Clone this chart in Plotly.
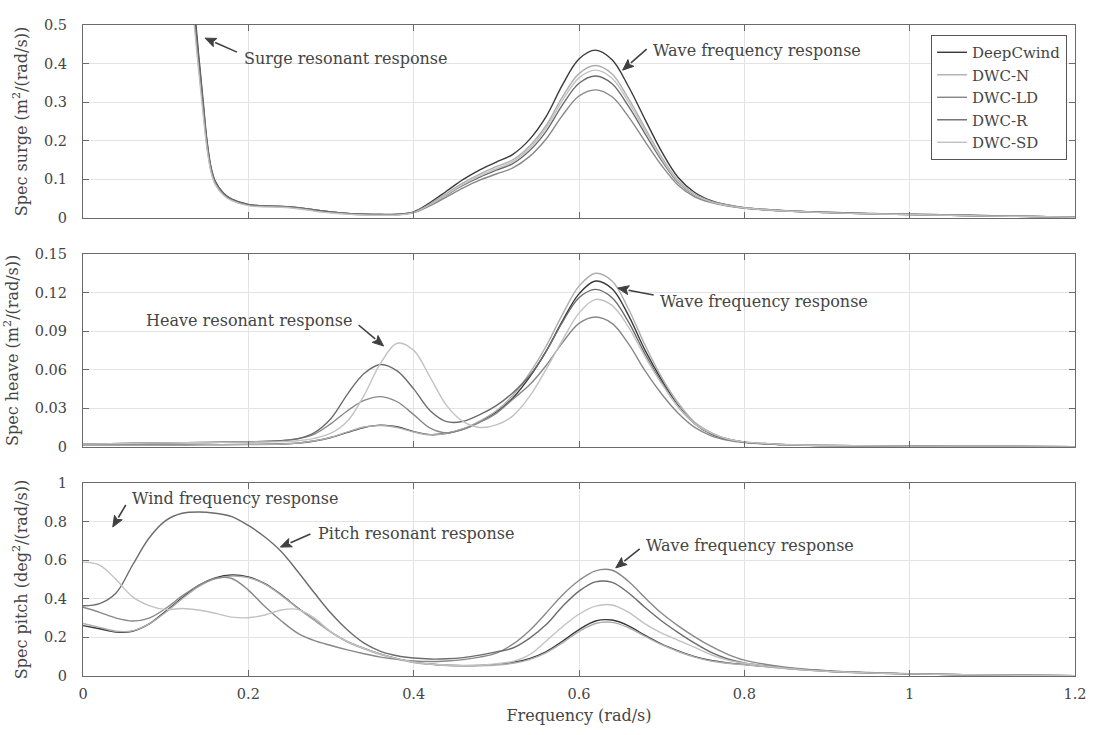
import math
import plotly.graph_objects as go
from plotly.subplots import make_subplots

# ---------------------------------------------------------------- data
SERIES = ["DeepCwind", "DWC-N", "DWC-LD", "DWC-R", "DWC-SD"]

# Surge response spectrum (m^2/(rad/s))
F_SURGE = [0, 0.05, 0.1, 0.12, 0.13, 0.135, 0.14, 0.145, 0.15, 0.155,
           0.16, 0.17, 0.18, 0.2, 0.22, 0.24, 0.26, 0.28, 0.3, 0.32,
           0.34, 0.36, 0.38, 0.4, 0.42, 0.44, 0.46, 0.48, 0.5, 0.52,
           0.54, 0.56, 0.58, 0.6, 0.62, 0.64, 0.66, 0.68, 0.7, 0.72,
           0.74, 0.76, 0.78, 0.8, 0.85, 0.9, 0.95, 1.0, 1.05, 1.1,
           1.15, 1.2]
SURGE_DEEPCWIND = [8.0, 5.0, 1.8, 0.95, 0.66, 0.54, 0.42, 0.31, 0.20, 0.13,
                   0.095, 0.064, 0.049, 0.035, 0.031, 0.030, 0.027, 0.021, 0.016, 0.012,
                   0.010, 0.009, 0.010, 0.016, 0.040, 0.070, 0.100, 0.125, 0.145, 0.165,
                   0.203, 0.262, 0.345, 0.412, 0.435, 0.410, 0.340, 0.255, 0.172, 0.105,
                   0.066, 0.045, 0.034, 0.027, 0.019, 0.015, 0.012, 0.010, 0.008, 0.006,
                   0.004, 0.002]
SURGE_N = [7.5, 4.7, 1.7, 0.88, 0.61, 0.50, 0.39, 0.285, 0.185, 0.12,
           0.088, 0.06, 0.046, 0.033, 0.030, 0.029, 0.025, 0.019, 0.014, 0.010,
           0.008, 0.007, 0.008, 0.015, 0.037, 0.064, 0.091, 0.114, 0.133, 0.151,
           0.186, 0.239, 0.314, 0.374, 0.395, 0.373, 0.309, 0.233, 0.158, 0.097,
           0.062, 0.043, 0.033, 0.026, 0.018, 0.014, 0.011, 0.009, 0.007, 0.005,
           0.004, 0.002]
SURGE_LD = [7.6, 4.8, 1.72, 0.90, 0.63, 0.51, 0.40, 0.295, 0.19, 0.125,
            0.092, 0.062, 0.047, 0.034, 0.031, 0.030, 0.027, 0.021, 0.016, 0.012,
            0.010, 0.009, 0.009, 0.014, 0.032, 0.055, 0.078, 0.098, 0.114, 0.130,
            0.159, 0.204, 0.266, 0.316, 0.332, 0.314, 0.262, 0.198, 0.136, 0.085,
            0.055, 0.040, 0.031, 0.025, 0.018, 0.014, 0.011, 0.009, 0.007, 0.005,
            0.004, 0.002]
SURGE_R = [7.8, 4.9, 1.75, 0.92, 0.64, 0.52, 0.41, 0.30, 0.195, 0.127,
           0.093, 0.063, 0.048, 0.034, 0.031, 0.030, 0.027, 0.021, 0.016, 0.012,
           0.010, 0.009, 0.009, 0.015, 0.035, 0.060, 0.085, 0.106, 0.124, 0.141,
           0.174, 0.224, 0.293, 0.349, 0.368, 0.348, 0.289, 0.218, 0.149, 0.092,
           0.059, 0.042, 0.032, 0.026, 0.018, 0.014, 0.011, 0.009, 0.007, 0.005,
           0.004, 0.002]
SURGE_SD = [7.3, 4.6, 1.65, 0.86, 0.60, 0.49, 0.38, 0.275, 0.18, 0.118,
            0.087, 0.059, 0.045, 0.032, 0.029, 0.028, 0.024, 0.018, 0.013, 0.010,
            0.008, 0.007, 0.008, 0.014, 0.035, 0.061, 0.087, 0.109, 0.128, 0.146,
            0.180, 0.232, 0.305, 0.363, 0.383, 0.362, 0.300, 0.226, 0.153, 0.094,
            0.060, 0.042, 0.032, 0.026, 0.018, 0.014, 0.011, 0.009, 0.007, 0.005,
            0.004, 0.002]

# Heave response spectrum (m^2/(rad/s))
F_HEAVE = [0, 0.05, 0.1, 0.15, 0.2, 0.24, 0.26, 0.28, 0.3, 0.32,
           0.34, 0.36, 0.38, 0.4, 0.42, 0.44, 0.46, 0.48, 0.5, 0.52,
           0.54, 0.56, 0.58, 0.6, 0.62, 0.64, 0.66, 0.68, 0.7, 0.72,
           0.74, 0.76, 0.78, 0.8, 0.85, 0.9, 1.0, 1.1, 1.2]
HEAVE_DEEPCWIND = [0.0015, 0.0015, 0.0015, 0.0016, 0.0018, 0.0021, 0.0028, 0.0044, 0.0072, 0.0112,
                   0.015, 0.0168, 0.0155, 0.0118, 0.0094, 0.0105, 0.0138, 0.0195, 0.027, 0.038,
                   0.054, 0.074, 0.098, 0.119, 0.129, 0.123, 0.102, 0.075, 0.052, 0.032,
                   0.018, 0.010, 0.0058, 0.0036, 0.0016, 0.0009, 0.0004, 0.0002, 0.0001]
HEAVE_N = [0.0013, 0.0013, 0.0014, 0.0015, 0.0017, 0.0021, 0.0029, 0.0046, 0.0074, 0.0115,
           0.0153, 0.0165, 0.015, 0.0115, 0.0093, 0.0105, 0.014, 0.020, 0.028, 0.040,
           0.057, 0.078, 0.103, 0.125, 0.135, 0.129, 0.107, 0.079, 0.054, 0.034,
           0.019, 0.011, 0.006, 0.0037, 0.0016, 0.0009, 0.0004, 0.0002, 0.0001]
HEAVE_LD = [0.002, 0.0025, 0.003, 0.0033, 0.0038, 0.0047, 0.0062, 0.0098, 0.018, 0.028,
            0.036, 0.039, 0.035, 0.025, 0.0145, 0.0108, 0.0135, 0.019, 0.026, 0.037,
            0.048, 0.063, 0.081, 0.096, 0.101, 0.096, 0.080, 0.059, 0.041, 0.026,
            0.015, 0.0085, 0.005, 0.0032, 0.0015, 0.0008, 0.0004, 0.0002, 0.0001]
HEAVE_R = [0.002, 0.0025, 0.003, 0.0033, 0.0038, 0.0047, 0.0063, 0.011, 0.022, 0.041,
           0.057, 0.064, 0.059, 0.045, 0.028, 0.0195, 0.0198, 0.025, 0.032, 0.042,
           0.055, 0.074, 0.097, 0.116, 0.1225, 0.116, 0.097, 0.072, 0.050, 0.031,
           0.018, 0.010, 0.0058, 0.0036, 0.0016, 0.0009, 0.0004, 0.0002, 0.0001]
HEAVE_SD = [0.002, 0.0025, 0.003, 0.0033, 0.0036, 0.004, 0.0047, 0.0065, 0.0105, 0.020,
            0.040, 0.065, 0.0805, 0.075, 0.054, 0.032, 0.0195, 0.015, 0.017, 0.024,
            0.039, 0.060, 0.083, 0.104, 0.1147, 0.110, 0.093, 0.070, 0.049, 0.031,
            0.018, 0.0105, 0.006, 0.0038, 0.0017, 0.0009, 0.0004, 0.0002, 0.0001]

# Pitch response spectrum (deg^2/(rad/s))
F_PITCH = [0, 0.02, 0.04, 0.06, 0.08, 0.1, 0.12, 0.14, 0.16, 0.18,
           0.2, 0.22, 0.24, 0.26, 0.28, 0.3, 0.32, 0.34, 0.36, 0.38,
           0.4, 0.42, 0.44, 0.46, 0.48, 0.5, 0.52, 0.54, 0.56, 0.58,
           0.6, 0.62, 0.64, 0.66, 0.68, 0.7, 0.72, 0.74, 0.76, 0.78,
           0.8, 0.85, 0.9, 0.95, 1.0, 1.1, 1.2]
PITCH_DEEPCWIND = [0.261, 0.245, 0.228, 0.232, 0.27, 0.335, 0.405, 0.47, 0.508, 0.523,
                   0.513, 0.478, 0.42, 0.352, 0.29, 0.228, 0.178, 0.143, 0.113, 0.09,
                   0.072, 0.062, 0.056, 0.054, 0.055, 0.06, 0.07, 0.09, 0.125, 0.18,
                   0.24, 0.285, 0.29, 0.26, 0.21, 0.165, 0.13, 0.10, 0.08, 0.068,
                   0.06, 0.04, 0.025, 0.016, 0.011, 0.005, 0.002]
PITCH_N = [0.272, 0.252, 0.232, 0.234, 0.27, 0.33, 0.4, 0.463, 0.503, 0.518,
           0.51, 0.476, 0.418, 0.35, 0.288, 0.226, 0.176, 0.141, 0.111, 0.088,
           0.07, 0.06, 0.054, 0.052, 0.053, 0.057, 0.066, 0.085, 0.12, 0.172,
           0.23, 0.272, 0.278, 0.25, 0.205, 0.162, 0.127, 0.098, 0.078, 0.066,
           0.058, 0.039, 0.024, 0.016, 0.011, 0.005, 0.002]
PITCH_LD = [0.356, 0.33, 0.30, 0.285, 0.30, 0.35, 0.415, 0.47, 0.506, 0.505,
            0.445, 0.36, 0.285, 0.221, 0.183, 0.158, 0.135, 0.115, 0.098, 0.086,
            0.078, 0.075, 0.078, 0.085, 0.098, 0.118, 0.165, 0.235, 0.325, 0.42,
            0.495, 0.545, 0.548, 0.49, 0.405, 0.325, 0.26, 0.203, 0.153, 0.112,
            0.082, 0.046, 0.028, 0.018, 0.012, 0.005, 0.002]
PITCH_R = [0.364, 0.375, 0.43, 0.575, 0.715, 0.805, 0.843, 0.85, 0.843, 0.826,
           0.78, 0.72, 0.644, 0.54, 0.43, 0.325, 0.238, 0.17, 0.128, 0.105,
           0.093, 0.088, 0.089, 0.095, 0.108, 0.125, 0.145, 0.195, 0.265, 0.36,
           0.44, 0.488, 0.485, 0.43, 0.355, 0.285, 0.225, 0.17, 0.122, 0.088,
           0.068, 0.042, 0.026, 0.017, 0.011, 0.005, 0.002]
PITCH_SD = [0.59, 0.575, 0.50, 0.41, 0.365, 0.345, 0.35, 0.342, 0.325, 0.305,
            0.302, 0.316, 0.342, 0.345, 0.30, 0.228, 0.178, 0.143, 0.113, 0.09,
            0.072, 0.062, 0.057, 0.055, 0.057, 0.063, 0.076, 0.11, 0.18, 0.255,
            0.32, 0.362, 0.368, 0.33, 0.27, 0.222, 0.185, 0.148, 0.11, 0.082,
            0.066, 0.041, 0.025, 0.016, 0.011, 0.005, 0.002]

# axis ticks
X_TICKS = [0, 0.2, 0.4, 0.6, 0.8, 1.0, 1.2]
X_TICK_LABELS = ["0", "0.2", "0.4", "0.6", "0.8", "1", "1.2"]
SURGE_TICKS = [0, 0.1, 0.2, 0.3, 0.4, 0.5]
SURGE_TICK_LABELS = ["0", "0.1", "0.2", "0.3", "0.4", "0.5"]
HEAVE_TICKS = [0, 0.03, 0.06, 0.09, 0.12, 0.15]
HEAVE_TICK_LABELS = ["0", "0.03", "0.06", "0.09", "0.12", "0.15"]
PITCH_TICKS = [0, 0.2, 0.4, 0.6, 0.8, 1.0]
PITCH_TICK_LABELS = ["0", "0.2", "0.4", "0.6", "0.8", "1"]

# ---------------------------------------------------------------- style
FONT = "DejaVu Serif"
TEXT_COLOR = "#454545"
ARROW_COLOR = "#404040"
LINE_COLORS = {
    "DeepCwind": "#3a3a3a",
    "DWC-N": "#adadad",
    "DWC-LD": "#888888",
    "DWC-R": "#6c6c6c",
    "DWC-SD": "#c2c2c2",
}

panels = [
    (F_SURGE, [SURGE_DEEPCWIND, SURGE_N, SURGE_LD, SURGE_R, SURGE_SD]),
    (F_HEAVE, [HEAVE_DEEPCWIND, HEAVE_N, HEAVE_LD, HEAVE_R, HEAVE_SD]),
    (F_PITCH, [PITCH_DEEPCWIND, PITCH_N, PITCH_LD, PITCH_R, PITCH_SD]),
]

fig = make_subplots(rows=3, cols=1)

for row, (freq, curves) in enumerate(panels, start=1):
    for name, values in zip(SERIES, curves):
        fig.add_trace(
            go.Scatter(
                x=freq, y=values, mode="lines", name=name,
                line=dict(color=LINE_COLORS[name], width=1.4, shape="spline", smoothing=1.0),
                showlegend=(row == 1), hoverinfo="skip",
            ),
            row=row, col=1,
        )

axis_common = dict(
    showline=True, linecolor="#6a6a6a", linewidth=1.2, mirror="ticks",
    ticks="inside", ticklen=6, tickcolor="#6a6a6a",
    showgrid=True, gridcolor="#e3e3e3", gridwidth=1, zeroline=False,
    tickfont=dict(family=FONT, size=14.5, color=TEXT_COLOR),
)

y_domains = [[0.7035, 1.0], [0.3522, 0.6482], [0.0, 0.2965]]
y_setup = [
    ([0, 0.5], SURGE_TICKS, SURGE_TICK_LABELS, "Spec surge (m<sup>2</sup>/(rad/s))"),
    ([0, 0.15], HEAVE_TICKS, HEAVE_TICK_LABELS, "Spec heave (m<sup>2</sup>/(rad/s))"),
    ([0, 1.0], PITCH_TICKS, PITCH_TICK_LABELS, "Spec pitch (deg<sup>2</sup>/(rad/s))"),
]

for i, (rng, tv, tt, title) in enumerate(y_setup):
    suffix = "" if i == 0 else str(i + 1)
    fig.layout["yaxis" + suffix].update(
        domain=y_domains[i], range=rng, tickvals=tv, ticktext=tt,
        ticklabelstandoff=12,
        title=dict(text=title, font=dict(family=FONT, size=16, color=TEXT_COLOR), standoff=12),
        **axis_common,
    )
    fig.layout["xaxis" + suffix].update(
        domain=[0, 1], range=[0, 1.2], tickvals=X_TICKS, ticktext=X_TICK_LABELS,
        showticklabels=(i == 2), ticklabelstandoff=4,
        **axis_common,
    )

fig.layout.xaxis3.title = dict(
    text="Frequency (rad/s)", font=dict(family=FONT, size=16, color=TEXT_COLOR), standoff=9,
)

# ---------------------------------------------------------------- callouts
# (axis suffix, arrow tip [f, value], tail offset from tip [px, screen y down],
#  label, label anchor [f, value], xanchor)
CALLOUTS = [
    ("", (0.1476, 0.466), (32, 14), "Surge resonant response", (0.192, 0.4145), "left"),
    ("", (0.6528, 0.383), (24, -21), "Wave frequency response", (0.6876, 0.435), "left"),
    ("2", (0.3636, 0.0784), (-25, -21), "Heave resonant response", (0.3276, 0.0986), "right"),
    ("2", (0.6468, 0.1235), (36, 7), "Wave frequency response", (0.696, 0.1134), "left"),
    ("3", (0.036, 0.772), (13, -22), "Wind frequency response", (0.0564, 0.917), "left"),
    ("3", (0.2388, 0.668), (30, -13), "Pitch resonant response", (0.282, 0.736), "left"),
    ("3", (0.6444, 0.56), (24, -19), "Wave frequency response", (0.679, 0.674), "left"),
]

HEAD_LEN = 11.0
HEAD_HALF = 4.5


def arrow_paths(tail):
    """Shaft and filled head in pixel offsets from the tip (y pointing up)."""
    tx, ty = tail[0], -tail[1]
    length = math.hypot(tx, ty)
    ux, uy = tx / length, ty / length          # tip -> tail direction
    px, py = -uy, ux                           # perpendicular
    bx, by = ux * HEAD_LEN, uy * HEAD_LEN      # head base centre
    shaft = f"M {bx:.2f},{by:.2f} L {tx:.2f},{ty:.2f}"
    head = (f"M 0,0 L {bx + px * HEAD_HALF:.2f},{by + py * HEAD_HALF:.2f} "
            f"L {bx * 0.8:.2f},{by * 0.8:.2f} "
            f"L {bx - px * HEAD_HALF:.2f},{by - py * HEAD_HALF:.2f} Z")
    return shaft, head


for suffix, tip, tail, label, pos, anchor in CALLOUTS:
    shaft, head = arrow_paths(tail)
    common = dict(
        xref="x" + suffix, yref="y" + suffix,
        xsizemode="pixel", ysizemode="pixel",
        xanchor=tip[0], yanchor=tip[1], layer="above",
    )
    fig.add_shape(type="path", path=shaft, line=dict(color=ARROW_COLOR, width=1.6), **common)
    fig.add_shape(type="path", path=head, line=dict(color=ARROW_COLOR, width=1),
                  fillcolor=ARROW_COLOR, **common)
    fig.add_annotation(
        xref="x" + suffix, yref="y" + suffix, x=pos[0], y=pos[1],
        text=label, showarrow=False, xanchor=anchor, yanchor="middle",
        font=dict(family=FONT, size=16, color=TEXT_COLOR),
    )

fig.update_layout(
    width=1099, height=735,
    margin=dict(l=80, r=19, t=25, b=59),
    paper_bgcolor="white", plot_bgcolor="white",
    font=dict(family=FONT, color=TEXT_COLOR),
    legend=dict(
        x=0.992, y=0.9846, xanchor="right", yanchor="top",
        bgcolor="white", bordercolor="#555555", borderwidth=1,
        font=dict(family=FONT, size=15, color=TEXT_COLOR),
        tracegroupgap=0,
    ),
)

fig.write_html("out.html")
